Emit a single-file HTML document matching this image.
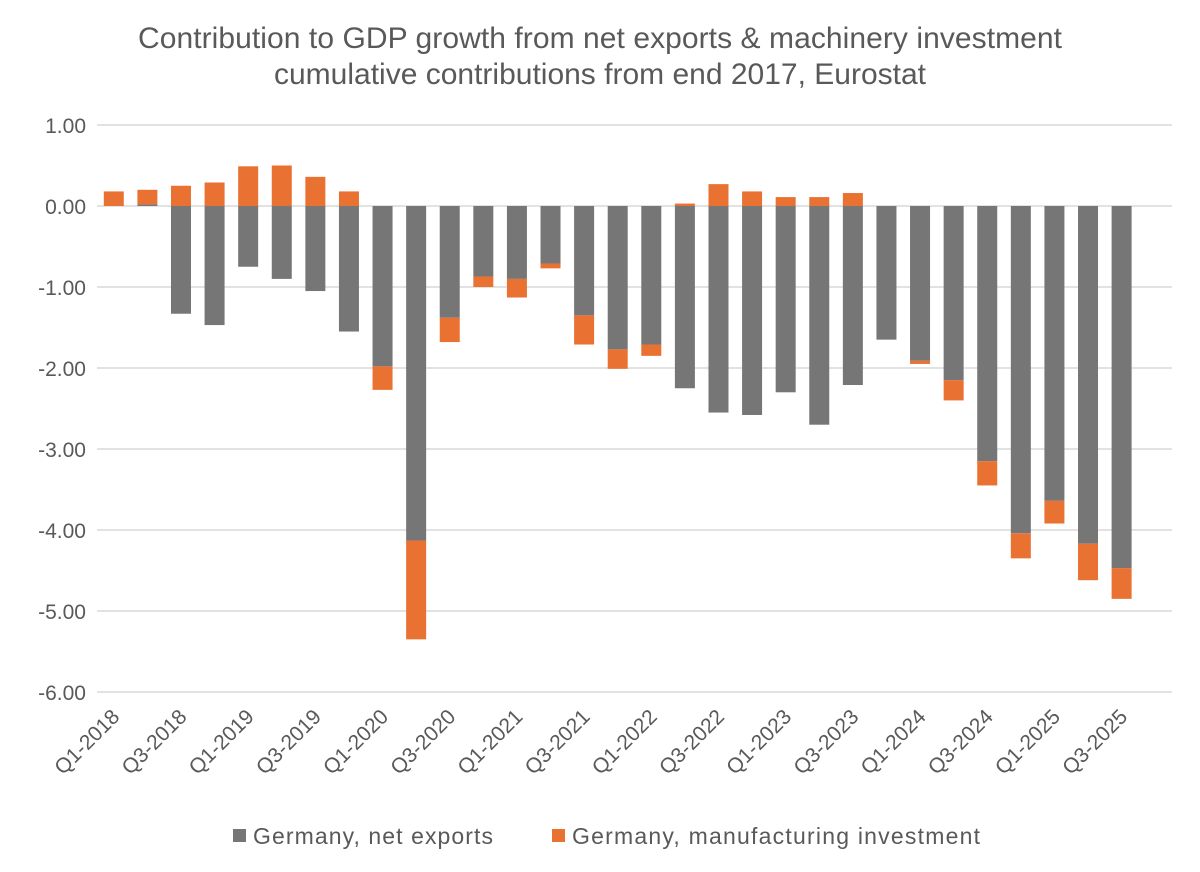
<!DOCTYPE html>
<html><head><meta charset="utf-8"><style>
body{margin:0;background:#fff;}
svg{display:block;font-family:"Liberation Sans",sans-serif;}
</style></head><body>
<svg id="chart" width="1200" height="872">
<rect x="0" y="0" width="1200" height="872" fill="#fff"/>
<text x="600" y="48" text-anchor="middle" font-size="30" fill="#595959" textLength="924">Contribution to GDP growth from net exports &amp; machinery investment</text>
<text x="600" y="84" text-anchor="middle" font-size="30" fill="#595959">cumulative contributions from end 2017, Eurostat</text>
<g id="grid"></g><g id="bars"></g><g id="xl"></g>
<g>
<rect x="233" y="829" width="13" height="13" fill="#767676"/>
<text x="253" y="844" font-size="23" fill="#595959" textLength="240">Germany, net exports</text>
<rect x="552" y="829" width="13" height="13" fill="#e97132"/>
<text x="572" y="844" font-size="23" fill="#595959" textLength="408">Germany, manufacturing investment</text>
</g>
</svg>
<script>
const categories=["Q1-2018","Q2-2018","Q3-2018","Q4-2018","Q1-2019","Q2-2019","Q3-2019","Q4-2019","Q1-2020","Q2-2020","Q3-2020","Q4-2020","Q1-2021","Q2-2021","Q3-2021","Q4-2021","Q1-2022","Q2-2022","Q3-2022","Q4-2022","Q1-2023","Q2-2023","Q3-2023","Q4-2023","Q1-2024","Q2-2024","Q3-2024","Q4-2024","Q1-2025","Q2-2025","Q3-2025","Q4-2025"];
const netExports=[0.0,0.02,-1.33,-1.47,-0.75,-0.9,-1.05,-1.55,-1.98,-4.13,-1.38,-0.87,-0.9,-0.71,-1.35,-1.77,-1.71,-2.25,-2.55,-2.58,-2.3,-2.7,-2.21,-1.65,-1.91,-2.15,-3.15,-4.04,-3.64,-4.17,-4.47,null];
const investment=[0.18,0.18,0.25,0.29,0.49,0.5,0.36,0.18,-0.29,-1.22,-0.3,-0.13,-0.23,-0.06,-0.36,-0.24,-0.14,0.03,0.27,0.18,0.11,0.11,0.16,0.0,-0.04,-0.25,-0.3,-0.31,-0.28,-0.45,-0.38,null];
const yTicks=[1,0,-1,-2,-3,-4,-5,-6];
const yTickLabels=["1.00","0.00","-1.00","-2.00","-3.00","-4.00","-5.00","-6.00"];
const NS="http://www.w3.org/2000/svg";
const L=97,R=1172,y0=206,k=81;
const pitch=(R-L)/categories.length;
const yS=v=>y0-v*k;
const xC=i=>L+pitch*(i+0.5);
function mk(t,a,p){const e=document.createElementNS(NS,t);for(const n in a)e.setAttribute(n,a[n]);p.appendChild(e);return e;}
const grid=document.getElementById('grid');
yTicks.forEach((v,i)=>{
 const l=mk('line',{x1:L,x2:R,y1:yS(v),y2:yS(v),stroke:'#d9d9d9','stroke-width':1.5},grid);
 
 
 const t=mk('text',{x:86,y:yS(v)+8,'text-anchor':'end','font-size':21,fill:'#595959'},grid);
 t.textContent=yTickLabels[i];
 
 
});
const bars=document.getElementById('bars');
categories.forEach((c,i)=>{
 let pos=0,neg=0;
 [[netExports[i],'#767676','net-exports'],[investment[i],'#e97132','investment']].forEach(([v,col,nm])=>{
  if(v==null)return;
  let a,b;
  if(v>=0){a=pos;b=pos+v;pos=b;}else{a=neg;b=neg+v;neg=b;}
  const top=Math.min(yS(a),yS(b)),h=Math.abs(yS(a)-yS(b));
  const r=mk('rect',{x:xC(i)-10,y:top,width:20,height:h,fill:col},bars);
  
  
 });
});
const xl=document.getElementById('xl');
categories.forEach((c,i)=>{
 if(i%2)return;
 const x=xC(i)+7,y=718;
 const t=mk('text',{x:x,y:y,'text-anchor':'end','font-size':21,fill:'#595959',transform:`rotate(-45 ${x} ${y})`},xl);
 t.textContent=c;
 
 
});
</script>
</body></html>
